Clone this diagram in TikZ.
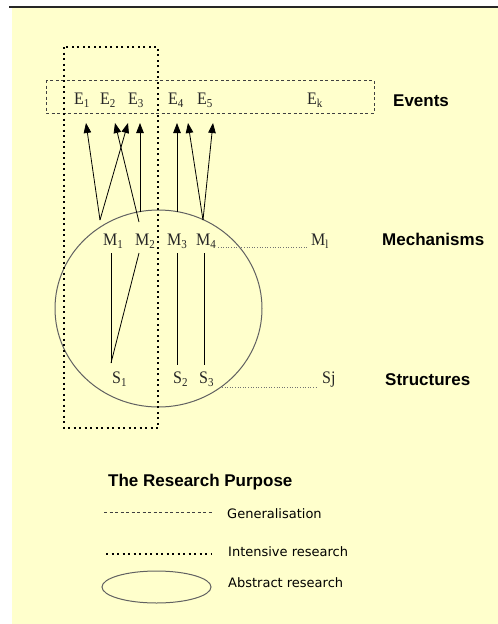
\documentclass[tikz,border=0pt]{standalone}
\usepackage{fontspec}
\setmainfont{Liberation Serif}
\newfontfamily\headfont{Liberation Sans}
\newfontfamily\legfont{DejaVu Sans}
\usetikzlibrary{arrows.meta}
\definecolor{bgyellow}{HTML}{FFFFCC}
\newcommand\sbx[1]{\raisebox{-0.22em}{\fontsize{11}{11}\selectfont #1}}
\begin{document}
\begin{tikzpicture}[x=1pt,y=-1pt,
 lbl/.style={anchor=base west, inner sep=0pt, font=\fontsize{16}{16}\selectfont, text=black!85, yscale=1.1, transform shape},
 head/.style={anchor=base west, inner sep=0pt, font=\headfont\bfseries\fontsize{17}{17}\selectfont},
 leg/.style={anchor=base west, inner sep=0pt, font=\legfont\fontsize{13}{13}\selectfont},
 arr/.style={-{Triangle[length=10pt,width=7.5pt]}, line width=0.8pt},
 link/.style={line width=0.8pt},
 intensive/.style={line width=2pt, dash pattern=on 2pt off 3.5pt},
 general/.style={line width=0.8pt, dash pattern=on 3pt off 2.5pt, draw=black!75},
 abstract/.style={line width=1pt, draw=black!62},
 trail/.style={line width=0.7pt, dash pattern=on 1pt off 1.6pt, draw=black!55},
]
\useasboundingbox (0,0) rectangle (498,624);
\fill[bgyellow] (12,8) rectangle (498,624);
\draw[line width=1.5pt, black!85] (9,7) -- (498,7);

% abstract research ellipse
\draw[abstract] (158.5,308.5) ellipse [x radius=103.5pt, y radius=98.5pt];

% events box (generalisation)
\draw[general] (46,80) rectangle (374,113);
% intensive research box
\draw[intensive] (64,47) rectangle (158,428);

% events
\node[lbl] (e1) at (74,104) {E\sbx{1}};
\node[lbl] (e2) at (100,104) {E\sbx{2}};
\node[lbl] (e3) at (128,104) {E\sbx{3}};
\node[lbl] (e4) at (168,104) {E\sbx{4}};
\node[lbl] (e5) at (197,104) {E\sbx{5}};
\node[lbl] (ek) at (307,104) {E\sbx{k}};

% mechanisms
\node[lbl] (m1) at (103,245) {M\sbx{1}};
\node[lbl] (m2) at (135,245) {M\sbx{2}};
\node[lbl] (m3) at (167,245) {M\sbx{3}};
\node[lbl] (m4) at (196,245) {M\sbx{4}};
\node[lbl] (ml) at (311,245) {M\sbx{l}};

% structures
\node[lbl] (s1) at (112,383) {S\sbx{1}};
\node[lbl] (s2) at (173,383) {S\sbx{2}};
\node[lbl] (s3) at (199,383) {S\sbx{3}};
\node[lbl] (sj) at (322,383) {Sj};

% headings
\node[head] (hev) at (393,106) {Events};
\node[head] (hme) at (382,245) {Mechanisms};
\node[head] (hst) at (385,385) {Structures};

% arrow endpoints
\coordinate (a1) at (100,220);
\coordinate (a2) at (139,222);
\coordinate (a3) at (140,212);
\coordinate (a4) at (177,212);
\coordinate (a5) at (203,220);
\coordinate (p1) at (86,123);
\coordinate (p2) at (115,123);
\coordinate (p3) at (128,123);
\coordinate (p4) at (140,123);
\coordinate (p5) at (177,123);
\coordinate (p6) at (188,123);
\coordinate (p7) at (213,123);

\draw[arr] (a1) -- (p1);
\draw[arr] (a1) -- (p3);
\draw[arr] (a2) -- (p2);
\draw[arr] (a3) -- (p4);
\draw[arr] (a4) -- (p5);
\draw[arr] (a5) -- (p6);
\draw[arr] (a5) -- (p7);

% mechanism-structure links
\coordinate (b1) at (111,253);
\coordinate (b2) at (139,253);
\coordinate (b3) at (177,253);
\coordinate (b4) at (204,253);
\coordinate (c1) at (111,363);
\coordinate (c3) at (177,365);
\coordinate (c4) at (204,365);
\draw[link] (b1) -- (c1);
\draw[link] (b2) -- (c1);
\draw[link] (b3) -- (c3);
\draw[link] (b4) -- (c4);

% trailing dotted lines
\coordinate (mt0) at (218,247);
\coordinate (mt1) at (308,247);
\coordinate (st0) at (222,387);
\coordinate (st1) at (318,387);
\draw[trail] (mt0) -- (mt1);
\draw[trail] (st0) -- (st1);

% legend
\node[head] (lt) at (108,486) {The Research Purpose};
\coordinate (g0) at (104,512);
\coordinate (g1) at (212,512);
\draw[general] (g0) -- (g1);
\node[leg] (lg) at (227,518) {Generalisation};
\coordinate (i0) at (106,554);
\coordinate (i1) at (212,554);
\draw[intensive] (i0) -- (i1);
\node[leg] (li) at (228,556) {Intensive research};
\draw[abstract] (156.5,587) ellipse [x radius=54.5pt, y radius=16pt];
\node[leg] (la) at (228,587) {Abstract research};
\end{tikzpicture}
\end{document}
